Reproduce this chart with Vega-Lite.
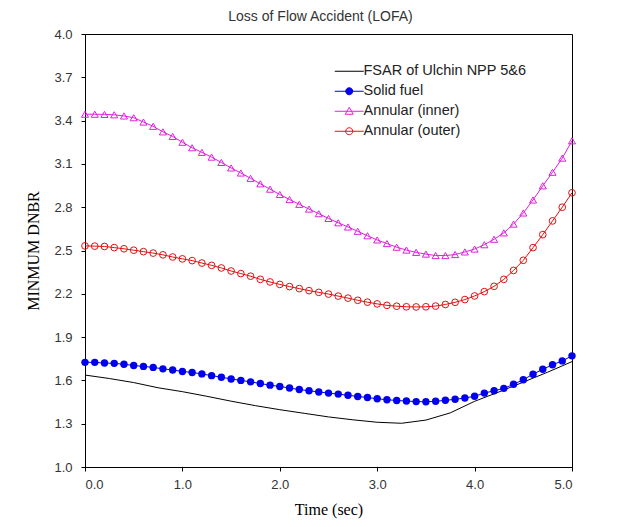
{
  "$schema": "https://vega.github.io/schema/vega-lite/v6.json",
  "autosize": "none",
  "width": 487,
  "height": 433,
  "padding": {"left": 85, "top": 34, "right": 52, "bottom": 60},
  "background": "white",
  "config": {
    "view": {"stroke": "black", "strokeWidth": 1},
    "axis": {"domainColor": "black", "tickColor": "black", "tickSize": 4, "grid": false, "labelFont": "Liberation Sans", "labelFontSize": 13, "labelColor": "#333333", "titleFont": "Liberation Serif", "titleFontSize": 16, "titleFontWeight": "normal", "titleColor": "black"},
    "legend": {"labelFont": "Liberation Sans", "labelFontSize": 14.5, "labelColor": "#222222", "labelLimit": 400}
  },
  "title": {"text": "Loss of Flow Accident (LOFA)", "font": "Liberation Sans", "fontSize": 14, "fontWeight": "normal", "color": "#333333", "anchor": "middle", "baseline": "alphabetic", "offset": -7, "dx": -8},
  "data": {"values": [
    {"series": "FSAR of Ulchin NPP 5&6", "t": 0, "v": 1.637},
    {"series": "FSAR of Ulchin NPP 5&6", "t": 0.25, "v": 1.613},
    {"series": "FSAR of Ulchin NPP 5&6", "t": 0.5, "v": 1.585},
    {"series": "FSAR of Ulchin NPP 5&6", "t": 0.75, "v": 1.549},
    {"series": "FSAR of Ulchin NPP 5&6", "t": 1.0, "v": 1.522},
    {"series": "FSAR of Ulchin NPP 5&6", "t": 1.25, "v": 1.49},
    {"series": "FSAR of Ulchin NPP 5&6", "t": 1.5, "v": 1.456},
    {"series": "FSAR of Ulchin NPP 5&6", "t": 1.75, "v": 1.425},
    {"series": "FSAR of Ulchin NPP 5&6", "t": 2.0, "v": 1.397},
    {"series": "FSAR of Ulchin NPP 5&6", "t": 2.25, "v": 1.372},
    {"series": "FSAR of Ulchin NPP 5&6", "t": 2.5, "v": 1.347},
    {"series": "FSAR of Ulchin NPP 5&6", "t": 2.75, "v": 1.327},
    {"series": "FSAR of Ulchin NPP 5&6", "t": 3.0, "v": 1.31},
    {"series": "FSAR of Ulchin NPP 5&6", "t": 3.25, "v": 1.303},
    {"series": "FSAR of Ulchin NPP 5&6", "t": 3.5, "v": 1.325},
    {"series": "FSAR of Ulchin NPP 5&6", "t": 3.75, "v": 1.375},
    {"series": "FSAR of Ulchin NPP 5&6", "t": 4.0, "v": 1.455},
    {"series": "FSAR of Ulchin NPP 5&6", "t": 4.25, "v": 1.52},
    {"series": "FSAR of Ulchin NPP 5&6", "t": 4.5, "v": 1.588},
    {"series": "FSAR of Ulchin NPP 5&6", "t": 4.75, "v": 1.657},
    {"series": "FSAR of Ulchin NPP 5&6", "t": 5.0, "v": 1.73},

    {"series": "Solid fuel", "t": 0, "v": 1.725},
    {"series": "Solid fuel", "t": 0.1, "v": 1.725},
    {"series": "Solid fuel", "t": 0.2, "v": 1.72},
    {"series": "Solid fuel", "t": 0.3, "v": 1.718},
    {"series": "Solid fuel", "t": 0.4, "v": 1.712},
    {"series": "Solid fuel", "t": 0.5, "v": 1.703},
    {"series": "Solid fuel", "t": 0.6, "v": 1.697},
    {"series": "Solid fuel", "t": 0.7, "v": 1.69},
    {"series": "Solid fuel", "t": 0.8, "v": 1.68},
    {"series": "Solid fuel", "t": 0.9, "v": 1.672},
    {"series": "Solid fuel", "t": 1.0, "v": 1.662},
    {"series": "Solid fuel", "t": 1.1, "v": 1.655},
    {"series": "Solid fuel", "t": 1.2, "v": 1.645},
    {"series": "Solid fuel", "t": 1.3, "v": 1.633},
    {"series": "Solid fuel", "t": 1.4, "v": 1.622},
    {"series": "Solid fuel", "t": 1.5, "v": 1.61},
    {"series": "Solid fuel", "t": 1.6, "v": 1.6},
    {"series": "Solid fuel", "t": 1.7, "v": 1.59},
    {"series": "Solid fuel", "t": 1.8, "v": 1.578},
    {"series": "Solid fuel", "t": 1.9, "v": 1.567},
    {"series": "Solid fuel", "t": 2.0, "v": 1.558},
    {"series": "Solid fuel", "t": 2.1, "v": 1.547},
    {"series": "Solid fuel", "t": 2.2, "v": 1.537},
    {"series": "Solid fuel", "t": 2.3, "v": 1.528},
    {"series": "Solid fuel", "t": 2.4, "v": 1.52},
    {"series": "Solid fuel", "t": 2.5, "v": 1.512},
    {"series": "Solid fuel", "t": 2.6, "v": 1.505},
    {"series": "Solid fuel", "t": 2.7, "v": 1.497},
    {"series": "Solid fuel", "t": 2.8, "v": 1.489},
    {"series": "Solid fuel", "t": 2.9, "v": 1.481},
    {"series": "Solid fuel", "t": 3.0, "v": 1.473},
    {"series": "Solid fuel", "t": 3.1, "v": 1.466},
    {"series": "Solid fuel", "t": 3.2, "v": 1.461},
    {"series": "Solid fuel", "t": 3.3, "v": 1.457},
    {"series": "Solid fuel", "t": 3.4, "v": 1.453},
    {"series": "Solid fuel", "t": 3.5, "v": 1.452},
    {"series": "Solid fuel", "t": 3.6, "v": 1.455},
    {"series": "Solid fuel", "t": 3.7, "v": 1.462},
    {"series": "Solid fuel", "t": 3.8, "v": 1.469},
    {"series": "Solid fuel", "t": 3.9, "v": 1.478},
    {"series": "Solid fuel", "t": 4.0, "v": 1.49},
    {"series": "Solid fuel", "t": 4.1, "v": 1.512},
    {"series": "Solid fuel", "t": 4.2, "v": 1.528},
    {"series": "Solid fuel", "t": 4.3, "v": 1.545},
    {"series": "Solid fuel", "t": 4.4, "v": 1.573},
    {"series": "Solid fuel", "t": 4.5, "v": 1.605},
    {"series": "Solid fuel", "t": 4.6, "v": 1.643},
    {"series": "Solid fuel", "t": 4.7, "v": 1.677},
    {"series": "Solid fuel", "t": 4.8, "v": 1.708},
    {"series": "Solid fuel", "t": 4.9, "v": 1.735},
    {"series": "Solid fuel", "t": 5.0, "v": 1.77},

    {"series": "Annular (inner)", "t": 0, "v": 3.444},
    {"series": "Annular (inner)", "t": 0.1, "v": 3.444},
    {"series": "Annular (inner)", "t": 0.2, "v": 3.443},
    {"series": "Annular (inner)", "t": 0.3, "v": 3.44},
    {"series": "Annular (inner)", "t": 0.4, "v": 3.432},
    {"series": "Annular (inner)", "t": 0.5, "v": 3.42},
    {"series": "Annular (inner)", "t": 0.6, "v": 3.39},
    {"series": "Annular (inner)", "t": 0.7, "v": 3.36},
    {"series": "Annular (inner)", "t": 0.8, "v": 3.322},
    {"series": "Annular (inner)", "t": 0.9, "v": 3.29},
    {"series": "Annular (inner)", "t": 1.0, "v": 3.25},
    {"series": "Annular (inner)", "t": 1.1, "v": 3.212},
    {"series": "Annular (inner)", "t": 1.2, "v": 3.18},
    {"series": "Annular (inner)", "t": 1.3, "v": 3.147},
    {"series": "Annular (inner)", "t": 1.4, "v": 3.11},
    {"series": "Annular (inner)", "t": 1.5, "v": 3.072},
    {"series": "Annular (inner)", "t": 1.6, "v": 3.037},
    {"series": "Annular (inner)", "t": 1.7, "v": 3.0},
    {"series": "Annular (inner)", "t": 1.8, "v": 2.962},
    {"series": "Annular (inner)", "t": 1.9, "v": 2.925},
    {"series": "Annular (inner)", "t": 2.0, "v": 2.888},
    {"series": "Annular (inner)", "t": 2.1, "v": 2.853},
    {"series": "Annular (inner)", "t": 2.2, "v": 2.82},
    {"series": "Annular (inner)", "t": 2.3, "v": 2.787},
    {"series": "Annular (inner)", "t": 2.4, "v": 2.755},
    {"series": "Annular (inner)", "t": 2.5, "v": 2.722},
    {"series": "Annular (inner)", "t": 2.6, "v": 2.692},
    {"series": "Annular (inner)", "t": 2.7, "v": 2.663},
    {"series": "Annular (inner)", "t": 2.8, "v": 2.633},
    {"series": "Annular (inner)", "t": 2.9, "v": 2.602},
    {"series": "Annular (inner)", "t": 3.0, "v": 2.573},
    {"series": "Annular (inner)", "t": 3.1, "v": 2.548},
    {"series": "Annular (inner)", "t": 3.2, "v": 2.523},
    {"series": "Annular (inner)", "t": 3.3, "v": 2.503},
    {"series": "Annular (inner)", "t": 3.4, "v": 2.487},
    {"series": "Annular (inner)", "t": 3.5, "v": 2.475},
    {"series": "Annular (inner)", "t": 3.6, "v": 2.465},
    {"series": "Annular (inner)", "t": 3.7, "v": 2.465},
    {"series": "Annular (inner)", "t": 3.8, "v": 2.472},
    {"series": "Annular (inner)", "t": 3.9, "v": 2.49},
    {"series": "Annular (inner)", "t": 4.0, "v": 2.51},
    {"series": "Annular (inner)", "t": 4.1, "v": 2.54},
    {"series": "Annular (inner)", "t": 4.2, "v": 2.578},
    {"series": "Annular (inner)", "t": 4.3, "v": 2.622},
    {"series": "Annular (inner)", "t": 4.4, "v": 2.683},
    {"series": "Annular (inner)", "t": 4.5, "v": 2.76},
    {"series": "Annular (inner)", "t": 4.6, "v": 2.85},
    {"series": "Annular (inner)", "t": 4.7, "v": 2.948},
    {"series": "Annular (inner)", "t": 4.8, "v": 3.042},
    {"series": "Annular (inner)", "t": 4.9, "v": 3.14},
    {"series": "Annular (inner)", "t": 5.0, "v": 3.26},

    {"series": "Annular (outer)", "t": 0, "v": 2.532},
    {"series": "Annular (outer)", "t": 0.1, "v": 2.53},
    {"series": "Annular (outer)", "t": 0.2, "v": 2.528},
    {"series": "Annular (outer)", "t": 0.3, "v": 2.52},
    {"series": "Annular (outer)", "t": 0.4, "v": 2.512},
    {"series": "Annular (outer)", "t": 0.5, "v": 2.502},
    {"series": "Annular (outer)", "t": 0.6, "v": 2.492},
    {"series": "Annular (outer)", "t": 0.7, "v": 2.482},
    {"series": "Annular (outer)", "t": 0.8, "v": 2.47},
    {"series": "Annular (outer)", "t": 0.9, "v": 2.455},
    {"series": "Annular (outer)", "t": 1.0, "v": 2.442},
    {"series": "Annular (outer)", "t": 1.1, "v": 2.43},
    {"series": "Annular (outer)", "t": 1.2, "v": 2.413},
    {"series": "Annular (outer)", "t": 1.3, "v": 2.397},
    {"series": "Annular (outer)", "t": 1.4, "v": 2.379},
    {"series": "Annular (outer)", "t": 1.5, "v": 2.358},
    {"series": "Annular (outer)", "t": 1.6, "v": 2.34},
    {"series": "Annular (outer)", "t": 1.7, "v": 2.322},
    {"series": "Annular (outer)", "t": 1.8, "v": 2.3},
    {"series": "Annular (outer)", "t": 1.9, "v": 2.282},
    {"series": "Annular (outer)", "t": 2.0, "v": 2.265},
    {"series": "Annular (outer)", "t": 2.1, "v": 2.25},
    {"series": "Annular (outer)", "t": 2.2, "v": 2.236},
    {"series": "Annular (outer)", "t": 2.3, "v": 2.222},
    {"series": "Annular (outer)", "t": 2.4, "v": 2.21},
    {"series": "Annular (outer)", "t": 2.5, "v": 2.198},
    {"series": "Annular (outer)", "t": 2.6, "v": 2.184},
    {"series": "Annular (outer)", "t": 2.7, "v": 2.17},
    {"series": "Annular (outer)", "t": 2.8, "v": 2.155},
    {"series": "Annular (outer)", "t": 2.9, "v": 2.142},
    {"series": "Annular (outer)", "t": 3.0, "v": 2.13},
    {"series": "Annular (outer)", "t": 3.1, "v": 2.12},
    {"series": "Annular (outer)", "t": 3.2, "v": 2.114},
    {"series": "Annular (outer)", "t": 3.3, "v": 2.11},
    {"series": "Annular (outer)", "t": 3.4, "v": 2.109},
    {"series": "Annular (outer)", "t": 3.5, "v": 2.11},
    {"series": "Annular (outer)", "t": 3.6, "v": 2.115},
    {"series": "Annular (outer)", "t": 3.7, "v": 2.126},
    {"series": "Annular (outer)", "t": 3.8, "v": 2.141},
    {"series": "Annular (outer)", "t": 3.9, "v": 2.16},
    {"series": "Annular (outer)", "t": 4.0, "v": 2.185},
    {"series": "Annular (outer)", "t": 4.1, "v": 2.215},
    {"series": "Annular (outer)", "t": 4.2, "v": 2.252},
    {"series": "Annular (outer)", "t": 4.3, "v": 2.3},
    {"series": "Annular (outer)", "t": 4.4, "v": 2.362},
    {"series": "Annular (outer)", "t": 4.5, "v": 2.432},
    {"series": "Annular (outer)", "t": 4.6, "v": 2.52},
    {"series": "Annular (outer)", "t": 4.7, "v": 2.61},
    {"series": "Annular (outer)", "t": 4.8, "v": 2.705},
    {"series": "Annular (outer)", "t": 4.9, "v": 2.8},
    {"series": "Annular (outer)", "t": 5.0, "v": 2.9}
  ]},
  "encoding": {
    "x": {"field": "t", "type": "quantitative", "scale": {"domain": [0, 5], "nice": false, "zero": false},
      "axis": {"title": "Time (sec)", "values": [0, 1, 2, 3, 4, 5], "format": ".1f", "labelPadding": 7, "titlePadding": 10}},
    "y": {"field": "v", "type": "quantitative", "scale": {"domain": [1, 4], "nice": false, "zero": false},
      "axis": {"title": "MINMUM DNBR", "values": [1.0, 1.3, 1.6, 1.9, 2.2, 2.5, 2.8, 3.1, 3.4, 3.7, 4.0], "format": ".1f", "labelPadding": 9, "titlePadding": 12}}
  },
  "layer": [
    {"transform": [{"filter": "datum.series === 'FSAR of Ulchin NPP 5&6'"}], "mark": {"type": "line", "color": "black", "strokeWidth": 1}},
    {"transform": [{"filter": "datum.series === 'Solid fuel'"}], "mark": {"type": "line", "color": "#0000EE", "strokeWidth": 1}},
    {"transform": [{"filter": "datum.series === 'Annular (inner)'"}], "mark": {"type": "line", "color": "#DD22DD", "strokeWidth": 1}},
    {"transform": [{"filter": "datum.series === 'Annular (outer)'"}], "mark": {"type": "line", "color": "#E01010", "strokeWidth": 1}},
    {"transform": [{"filter": "datum.series === 'Solid fuel'"}], "mark": {"type": "point", "shape": "circle", "filled": true, "color": "#0000EE", "size": 55, "opacity": 1}},
    {"transform": [{"filter": "datum.series === 'Annular (inner)'"}], "mark": {"type": "point", "shape": "triangle-up", "filled": false, "color": "#DD22DD", "size": 50, "strokeWidth": 1, "opacity": 1}},
    {"transform": [{"filter": "datum.series === 'Annular (outer)'"}], "mark": {"type": "point", "shape": "circle", "filled": false, "color": "#E01010", "size": 45, "strokeWidth": 1, "opacity": 1}},
    {
      "transform": [{"filter": "datum.t === 0"}],
      "mark": {"type": "point", "filled": false, "opacity": 0},
      "encoding": {
        "color": {"field": "series", "type": "nominal",
          "scale": {"domain": ["FSAR of Ulchin NPP 5&6", "Solid fuel", "Annular (inner)", "Annular (outer)"], "range": ["black", "#0000EE", "#DD22DD", "#E01010"]},
          "legend": {"title": null, "orient": "none", "legendX": 257, "legendY": 30, "symbolSize": 100, "symbolStrokeWidth": 1, "symbolOpacity": 1, "symbolFillColor": "transparent", "labelOffset": 7, "rowPadding": 5, "labelLimit": 400}},
        "fill": {"field": "series", "type": "nominal",
          "scale": {"domain": ["FSAR of Ulchin NPP 5&6", "Solid fuel", "Annular (inner)", "Annular (outer)"], "range": ["transparent", "#0000EE", "transparent", "transparent"]},
          "legend": {"title": null, "orient": "none", "legendX": 257, "legendY": 30, "symbolSize": 100, "symbolStrokeWidth": 1, "symbolOpacity": 1, "symbolFillColor": "transparent", "labelOffset": 7, "rowPadding": 5, "labelLimit": 400}},
        "shape": {"field": "series", "type": "nominal",
          "scale": {"domain": ["FSAR of Ulchin NPP 5&6", "Solid fuel", "Annular (inner)", "Annular (outer)"],
            "range": ["M-2.9,0H2.9", "M-2.9,0H2.9M0.7,0A0.7,0.7 0 1,0 -0.7,0A0.7,0.7 0 1,0 0.7,0Z", "M-2.9,0H2.9M0,-0.8L0.8,0.6L-0.8,0.6Z", "M-2.9,0H2.9M0.7,0A0.7,0.7 0 1,0 -0.7,0A0.7,0.7 0 1,0 0.7,0Z"]},
          "legend": {"title": null, "orient": "none", "legendX": 257, "legendY": 30, "symbolSize": 100, "symbolStrokeWidth": 1, "symbolOpacity": 1, "symbolFillColor": "transparent", "labelOffset": 7, "rowPadding": 5, "labelLimit": 400}}
      }
    }
  ]
}
